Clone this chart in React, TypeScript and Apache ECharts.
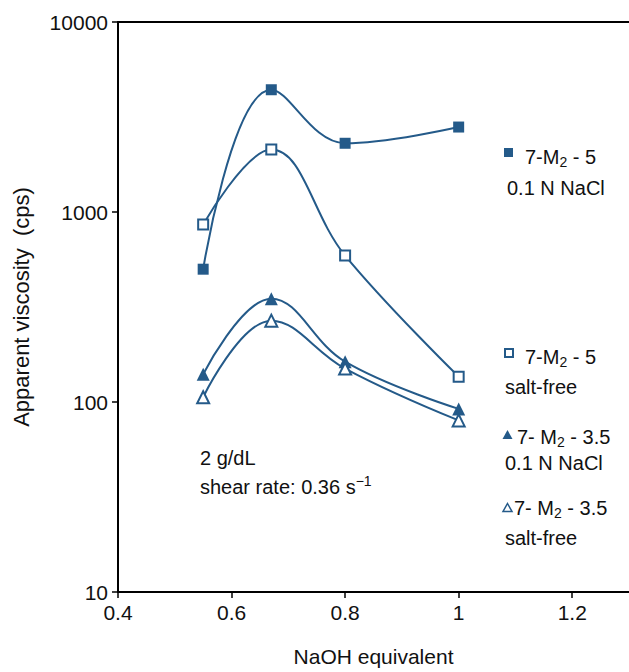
import React, { useEffect, useRef } from "react";
import * as echarts from "echarts";

const naohEquivalent = [0.55, 0.67, 0.8, 1.0];
const m5NaCl = [500, 4400, 2300, 2800];
const m5SaltFree = [860, 2130, 590, 136];
const m35NaCl = [140, 350, 163, 92];
const m35SaltFree = [106, 268, 150, 80];

const xTicks = { min: 0.4, max: 1.3, interval: 0.2 };
const yTicks = { min: 10, max: 10000 };

const BLUE = "#245a89";
const FONT = "Liberation Sans, Arial, Helvetica, sans-serif";

function pairs(ys: number[]) {
  return naohEquivalent.map((x, i) => [x, ys[i]]);
}

function richText(x: number, y: number, text: string) {
  return {
    type: "text",
    x,
    y,
    silent: true,
    style: {
      text,
      fill: "#111",
      fontSize: 20,
      fontFamily: FONT,
      verticalAlign: "middle",
      textVerticalAlign: "middle",
      lineHeight: 28,
      rich: {
        sub: { fontSize: 14, fontFamily: FONT, fill: "#111", padding: [10, 0, 0, 0] },
        sup: { fontSize: 14, fontFamily: FONT, fill: "#111", padding: [0, 0, 12, 0] },
      },
    },
  };
}

export default function App() {
  const ref = useRef<HTMLDivElement>(null);
  useEffect(() => {
    if (!ref.current) return;
    const chart = echarts.init(ref.current, null, { renderer: "svg" });
    const lineSeries = (name: string, data: number[], symbol: string, filled: boolean, size: number) => ({
      name,
      type: "line",
      data: pairs(data),
      smooth: 0.4,
      symbol,
      symbolSize: size,
      showAllSymbol: true,
      lineStyle: { color: BLUE, width: 2 },
      itemStyle: {
        color: filled ? BLUE : "#ffffff",
        borderColor: BLUE,
        borderWidth: filled ? 0 : 2,
      },
      z: 3,
    });
    const option = {
      animation: false,
      backgroundColor: "#ffffff",
      grid: { left: 118, top: 22, width: 513, height: 575 },
      xAxis: [
        {
          type: "value",
          min: xTicks.min,
          max: xTicks.max,
          interval: xTicks.interval,
          name: "NaOH equivalent",
          nameLocation: "middle",
          nameGap: 54,
          nameTextStyle: { fontSize: 21, color: "#111", fontFamily: FONT },
          axisLine: { onZero: false, lineStyle: { color: "#000", width: 2 } },
          axisTick: { length: 6, lineStyle: { color: "#000", width: 1.5 } },
          axisLabel: { fontSize: 21, color: "#111", fontFamily: FONT, margin: 10, showMaxLabel: false },
          splitLine: { show: false },
        },
        {
          type: "value",
          position: "top",
          min: xTicks.min,
          max: xTicks.max,
          interval: xTicks.interval,
          axisLine: { show: true, onZero: false, lineStyle: { color: "#000", width: 2 } },
          axisTick: { show: false },
          axisLabel: { show: false },
          splitLine: { show: false },
        },
      ],
      yAxis: {
        type: "log",
        logBase: 10,
        min: yTicks.min,
        max: yTicks.max,
        name: "Apparent viscosity  (cps)",
        nameLocation: "middle",
        nameGap: 86,
        nameTextStyle: { fontSize: 22, color: "#111", fontFamily: FONT },
        axisLine: { show: true, onZero: false, lineStyle: { color: "#000", width: 2 } },
        axisTick: { show: true, length: 6, lineStyle: { color: "#000", width: 1.5 } },
        axisLabel: {
          fontSize: 21,
          color: "#111",
          fontFamily: FONT,
          margin: 10,
          formatter: (v: number) => String(Math.round(v)),
        },
        splitLine: { show: false },
        minorTick: { show: false },
      },
      series: [
        lineSeries("7-M2 - 5 0.1 N NaCl", m5NaCl, "rect", true, 11),
        lineSeries("7-M2 - 5 salt-free", m5SaltFree, "rect", false, 10),
        lineSeries("7- M2 - 3.5 0.1 N NaCl", m35NaCl, "triangle", true, 13),
        lineSeries("7- M2 - 3.5 salt-free", m35SaltFree, "triangle", false, 12),
      ],
      graphic: [
        { type: "rect", shape: { x: 504, y: 148, width: 9, height: 9 }, style: { fill: BLUE } },
        richText(525, 157, "7-M{sub|2} - 5"),
        richText(507, 188, "0.1 N NaCl"),
        { type: "rect", shape: { x: 505, y: 349, width: 8, height: 8 }, style: { fill: "#fff", stroke: BLUE, lineWidth: 2 } },
        richText(525, 357, "7-M{sub|2} - 5"),
        richText(505, 387, "salt-free"),
        { type: "polygon", shape: { points: [[507.5, 430], [512.5, 439], [502.5, 439]] }, style: { fill: BLUE } },
        richText(517, 437, "7- M{sub|2} - 3.5"),
        richText(505, 463, "0.1 N NaCl"),
        { type: "polygon", shape: { points: [[507.5, 503.5], [512, 511.5], [503, 511.5]] }, style: { fill: "#fff", stroke: BLUE, lineWidth: 1.5 } },
        richText(514, 508, "7- M{sub|2} - 3.5"),
        richText(505, 538, "salt-free"),
        richText(200, 458, "2 g/dL"),
        richText(200, 487, "shear rate: 0.36 s{sup|−1}"),
      ],
    };
    chart.setOption(option as any);
    return () => chart.dispose();
  }, []);
  return (
    <div
      ref={ref}
      style={{ position: "absolute", left: 0, top: 0, width: 629, height: 672 }}
    />
  );
}
